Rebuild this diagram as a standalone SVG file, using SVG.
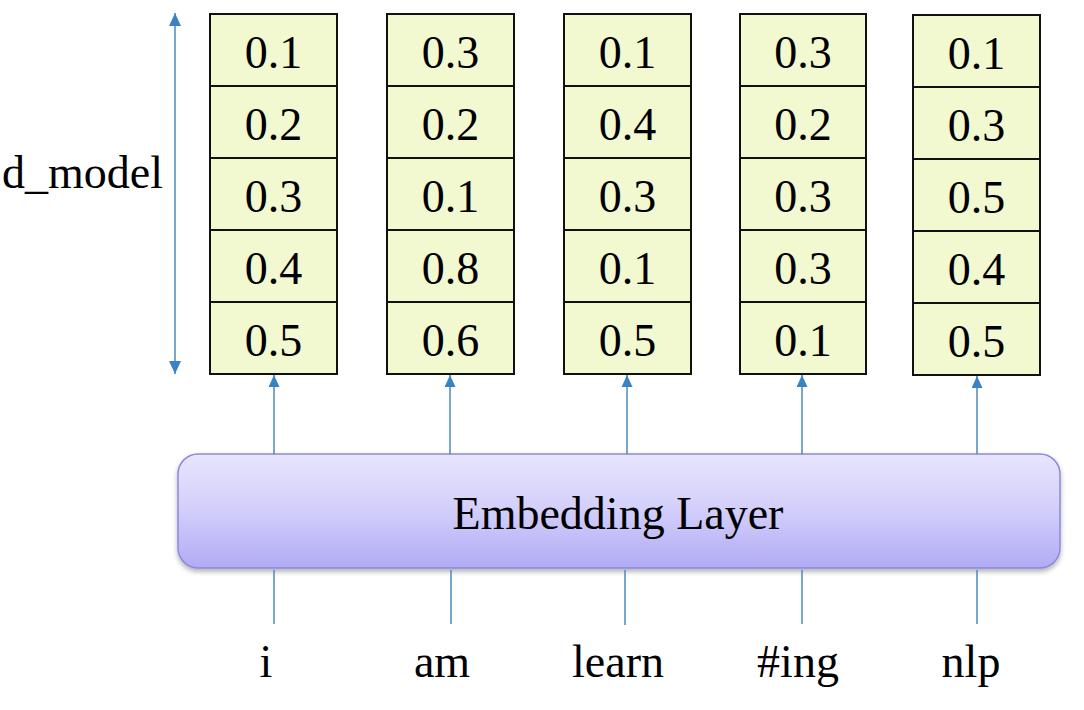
<svg xmlns="http://www.w3.org/2000/svg" width="1084" height="710" viewBox="0 0 1084 710">
<defs>
<style>
.cell{fill:#f2f8d0;stroke:#111;stroke-width:2}
.t{font-family:'Liberation Serif','DejaVu Serif',serif;font-size:46px;fill:#000;text-anchor:middle}
.c{stroke:#4a88c2;stroke-width:1.5;fill:none}
</style>
<linearGradient id="g" x1="0" y1="0" x2="0" y2="1">
<stop offset="0" stop-color="#e7e5fc"/>
<stop offset="0.5" stop-color="#d2cefa"/>
<stop offset="1" stop-color="#b1abf5"/>
</linearGradient>
<filter id="sh" x="-5%" y="-20%" width="110%" height="140%">
<feGaussianBlur in="SourceAlpha" stdDeviation="2.5"/>
<feOffset dx="0" dy="3"/>
<feComponentTransfer><feFuncA type="linear" slope="0.3"/></feComponentTransfer>
<feMerge><feMergeNode/><feMergeNode in="SourceGraphic"/></feMerge>
</filter>
<marker id="ah" viewBox="0 0 10 10" refX="10" refY="5" markerWidth="12" markerHeight="11" markerUnits="userSpaceOnUse" orient="auto" preserveAspectRatio="none">
<path d="M0,0 L10,5 L0,10 z" fill="#3b82c4"/>
</marker>
<marker id="ah2" viewBox="0 0 10 10" refX="10" refY="5" markerWidth="13" markerHeight="12" markerUnits="userSpaceOnUse" orient="auto" preserveAspectRatio="none">
<path d="M0,0 L10,5 L0,10 z" fill="#3b82c4"/>
</marker>
</defs>
<rect width="1084" height="710" fill="#fff"/>

<g id="vec-i">
<rect class="cell" x="210" y="14" width="127" height="72"/>
<rect class="cell" x="210" y="86" width="127" height="72"/>
<rect class="cell" x="210" y="158" width="127" height="72"/>
<rect class="cell" x="210" y="230" width="127" height="72"/>
<rect class="cell" x="210" y="302" width="127" height="72"/>
<text class="t" x="273.5" y="68">0.1</text>
<text class="t" x="273.5" y="140">0.2</text>
<text class="t" x="273.5" y="212">0.3</text>
<text class="t" x="273.5" y="284">0.4</text>
<text class="t" x="273.5" y="356">0.5</text>
</g>
<g id="vec-am">
<rect class="cell" x="387" y="14" width="127" height="72"/>
<rect class="cell" x="387" y="86" width="127" height="72"/>
<rect class="cell" x="387" y="158" width="127" height="72"/>
<rect class="cell" x="387" y="230" width="127" height="72"/>
<rect class="cell" x="387" y="302" width="127" height="72"/>
<text class="t" x="450.5" y="68">0.3</text>
<text class="t" x="450.5" y="140">0.2</text>
<text class="t" x="450.5" y="212">0.1</text>
<text class="t" x="450.5" y="284">0.8</text>
<text class="t" x="450.5" y="356">0.6</text>
</g>
<g id="vec-learn">
<rect class="cell" x="564" y="14" width="127" height="72"/>
<rect class="cell" x="564" y="86" width="127" height="72"/>
<rect class="cell" x="564" y="158" width="127" height="72"/>
<rect class="cell" x="564" y="230" width="127" height="72"/>
<rect class="cell" x="564" y="302" width="127" height="72"/>
<text class="t" x="627.5" y="68">0.1</text>
<text class="t" x="627.5" y="140">0.4</text>
<text class="t" x="627.5" y="212">0.3</text>
<text class="t" x="627.5" y="284">0.1</text>
<text class="t" x="627.5" y="356">0.5</text>
</g>
<g id="vec-ing">
<rect class="cell" x="740" y="14" width="126" height="72"/>
<rect class="cell" x="740" y="86" width="126" height="72"/>
<rect class="cell" x="740" y="158" width="126" height="72"/>
<rect class="cell" x="740" y="230" width="126" height="72"/>
<rect class="cell" x="740" y="302" width="126" height="72"/>
<text class="t" x="803" y="68">0.3</text>
<text class="t" x="803" y="140">0.2</text>
<text class="t" x="803" y="212">0.3</text>
<text class="t" x="803" y="284">0.3</text>
<text class="t" x="803" y="356">0.1</text>
</g>
<g id="vec-nlp">
<rect class="cell" x="913" y="15" width="127" height="72"/>
<rect class="cell" x="913" y="87" width="127" height="72"/>
<rect class="cell" x="913" y="159" width="127" height="72"/>
<rect class="cell" x="913" y="231" width="127" height="72"/>
<rect class="cell" x="913" y="303" width="127" height="72"/>
<text class="t" x="976.5" y="69">0.1</text>
<text class="t" x="976.5" y="141">0.3</text>
<text class="t" x="976.5" y="213">0.5</text>
<text class="t" x="976.5" y="285">0.4</text>
<text class="t" x="976.5" y="357">0.5</text>
</g>

<g id="embedding">
<rect x="178" y="454" width="882" height="114" rx="20" ry="20" fill="url(#g)" stroke="#8f88dc" stroke-width="1.5" filter="url(#sh)"/>
<text class="t" x="618" y="529">Embedding Layer</text>
</g>

<g id="dmodel">
<text class="t" x="82.5" y="188">d_model</text>
</g>

<g id="tokens">
<text class="t" x="266" y="677">i</text>
<text class="t" x="442" y="677">am</text>
<text class="t" x="618" y="677">learn</text>
<text class="t" x="798" y="677">#ing</text>
<text class="t" x="971" y="677">nlp</text>
</g>

<g id="connectors">
<line class="c" x1="175" y1="190" x2="175" y2="13" marker-end="url(#ah2)"/>
<line class="c" x1="175" y1="190" x2="175" y2="374" marker-end="url(#ah2)"/>
<line class="c" x1="274" y1="454" x2="274" y2="375" marker-end="url(#ah)"/>
<line class="c" x1="450" y1="454" x2="450" y2="375" marker-end="url(#ah)"/>
<line class="c" x1="627" y1="454" x2="627" y2="375" marker-end="url(#ah)"/>
<line class="c" x1="802" y1="454" x2="802" y2="375" marker-end="url(#ah)"/>
<line class="c" x1="977" y1="454" x2="977" y2="376" marker-end="url(#ah)"/>
<line class="c" x1="274" y1="570" x2="274" y2="624"/>
<line class="c" x1="451" y1="570" x2="451" y2="624"/>
<line class="c" x1="625" y1="570" x2="625" y2="625"/>
<line class="c" x1="802" y1="570" x2="802" y2="624"/>
<line class="c" x1="977" y1="570" x2="977" y2="624"/>
</g>
</svg>
